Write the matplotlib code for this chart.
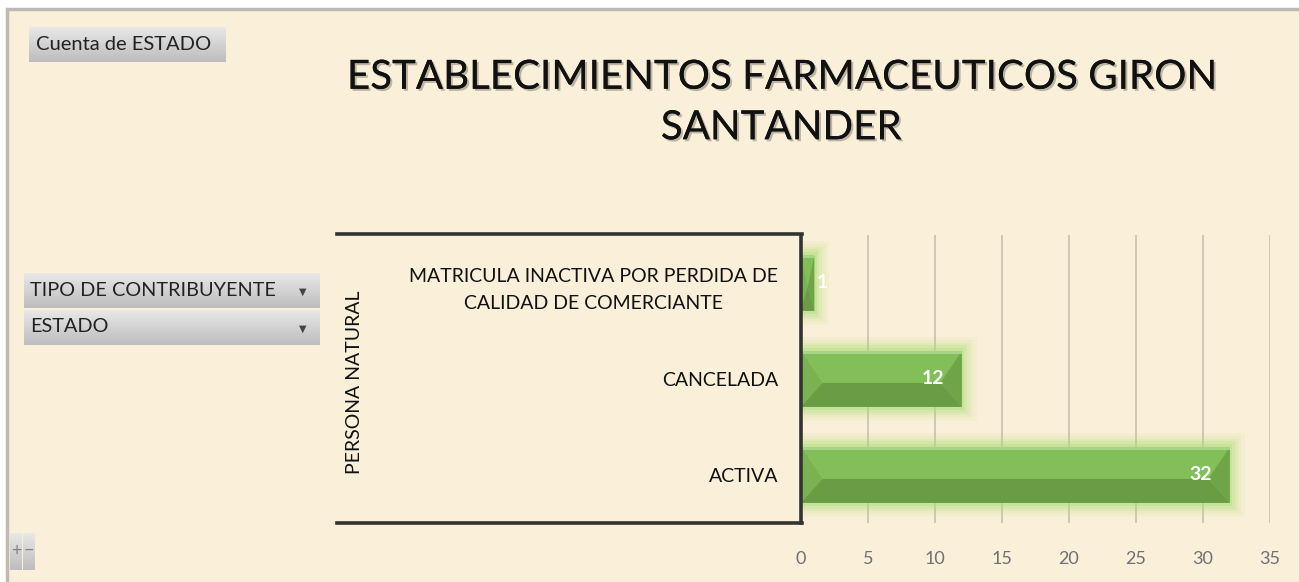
import matplotlib.pyplot as plt
import numpy as np
from matplotlib.patches import Rectangle
from matplotlib.lines import Line2D
from matplotlib.colors import LinearSegmentedColormap
import matplotlib.patheffects as pe

plt.rcParams['font.family'] = ['Lato', 'DejaVu Sans']

# datos
estados = ['ACTIVA', 'CANCELADA',
           'MATRICULA INACTIVA POR PERDIDA DE\nCALIDAD DE COMERCIANTE']
cuentas = [32, 12, 1]
grupo = 'PERSONA NATURAL'
x_ticks = [0, 5, 10, 15, 20, 25, 30, 35]
titulo = 'ESTABLECIMIENTOS FARMACEUTICOS GIRON\nSANTANDER'

W, H = 1299, 582
fondo = '#FAEFD8'


def fx(px):
    return px / W


def fy(py):
    return 1 - py / H


fig = plt.figure(figsize=(W / 100, H / 100), dpi=100)
fig.patch.set_facecolor('white')

# marco del grafico (debajo de todo)
fig.add_artist(Rectangle((fx(7), -0.1), 1.2, fy(9) + 0.1, transform=fig.transFigure,
                         facecolor=fondo, edgecolor='#BDBAB5', lw=2.5, zorder=-10))

# titulo
fig.text(fx(781), fy(102.5), titulo, ha='center', va='center', fontsize=29,
         color='#111111', linespacing=1.45,
         path_effects=[pe.withSimplePatchShadow(offset=(1.5, -1.5), alpha=0.25),
                       pe.Normal()])

# ejes
ax = fig.add_axes([fx(801), fy(523), fx(1270) - fx(801), (523 - 235) / H])
ax.set_facecolor('none')
y = np.arange(len(estados))
h = 0.58

# brillo alrededor de las barras
for gx, gy, a in [(1.1, 0.15, 0.07), (0.85, 0.12, 0.1), (0.6, 0.09, 0.14),
                  (0.38, 0.06, 0.2), (0.18, 0.03, 0.3)]:
    ax.barh(y, np.array(cuentas) + gx, height=h + 2 * gy, color='#A8DE6E',
            alpha=a, lw=0, zorder=2)

# barras con bisel
ax.barh(y, cuentas, height=h, color='#83BF58', lw=0, zorder=3)
for yi, v in zip(y, cuentas):
    bot = yi - h / 2
    top = yi + h / 2
    mid = bot + 0.43 * h
    bev = min(1.6, v / 2)
    ax.fill([0, bev, 0], [top, mid, bot], color='#79B250', lw=0, zorder=4)
    ax.fill([0, v, v - bev, bev], [bot, bot, mid, mid], color='#6A9C45', lw=0, zorder=4)
    ax.fill([v, v - bev, v], [top, mid, bot], color='#6FA548', lw=0, zorder=4)
    ax.fill([0, v, v, 0], [top - 0.025, top - 0.025, top, top], color='#A5D585',
            lw=0, zorder=4)
    if v < 3:
        ax.annotate(str(v), (v, yi), xytext=(2, 0), textcoords='offset pixels',
                    ha='left', va='center', color='white', fontsize=14,
                    fontweight='bold', zorder=5)
    else:
        ax.annotate(str(v), (v, yi), xytext=(-18, 0), textcoords='offset pixels',
                    ha='right', va='center', color='white', fontsize=14,
                    fontweight='bold', zorder=5)

ax.set_xlim(0, 35)
ax.set_ylim(-0.5, 2.5)
ax.set_xticks(x_ticks)
ax.set_yticks(y, estados)
for lab in ax.get_yticklabels():
    lab.set_multialignment('center')
    lab.set_linespacing(1.75)
ax.tick_params(axis='x', length=0, pad=20, labelsize=13, labelcolor='#707070')
ax.tick_params(axis='y', length=0, pad=16.5, labelsize=14, labelcolor='#111111')
ax.xaxis.grid(True, color='#CFC6B6', lw=1.4, zorder=1)
ax.set_axisbelow(True)
for s in ['top', 'right', 'bottom']:
    ax.spines[s].set_visible(False)
ax.spines['left'].set_color('#333333')
ax.spines['left'].set_linewidth(2.6)
ax.spines['left'].set_zorder(6)

# lineas del encabezado de filas
for py in [234, 523]:
    fig.add_artist(Line2D([fx(337), fx(802)], [fy(py), fy(py)], color='#333333',
                          lw=2.6, transform=fig.transFigure))
fig.text(fx(355), fy(382), grupo, rotation=90, ha='center', va='center',
         fontsize=14, color='#111111')

# botones
gris = LinearSegmentedColormap.from_list('gris', ['#E8E8E8', '#BDBDBD'])
grad = np.linspace(0, 1, 50).reshape(-1, 1)


def boton(x0, y0, x1, y1):
    b = fig.add_axes([fx(x0), fy(y1), fx(x1) - fx(x0), (y1 - y0) / H])
    b.imshow(grad, aspect='auto', cmap=gris, extent=[0, 1, 0, 1])
    b.axis('off')
    return b


boton(29, 27, 226, 62)
fig.text(fx(36), fy(45), 'Cuenta de ESTADO', ha='left', va='center',
         fontsize=14.5, color='#222222')
boton(24, 273, 320, 308)
fig.text(fx(30), fy(290), 'TIPO DE CONTRIBUYENTE', ha='left', va='center',
         fontsize=14.3, color='#222222')
fig.text(fx(303), fy(292), '▼', ha='center', va='center', fontsize=7,
         color='#444444', family='DejaVu Sans')
boton(24, 310, 320, 345)
fig.text(fx(30), fy(327), 'ESTADO', ha='left', va='center',
         fontsize=14.3, color='#222222')
fig.text(fx(303), fy(329), '▼', ha='center', va='center', fontsize=7,
         color='#444444', family='DejaVu Sans')
boton(10, 533, 22, 570)
boton(23, 533, 35, 570)
fig.text(fx(16), fy(551), '+', ha='center', va='center', fontsize=13,
         color='#808080')
fig.text(fx(29), fy(551), '−', ha='center', va='center', fontsize=13,
         color='#808080')

fig.savefig('out.png', dpi=100)
